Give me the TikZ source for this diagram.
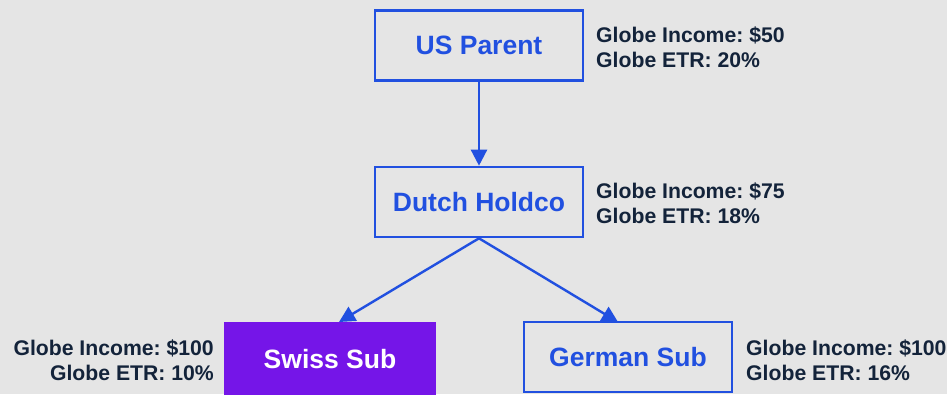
\documentclass[tikz,border=0pt]{standalone}
\usepackage{fontspec}
\setmainfont{Liberation Sans}
\usetikzlibrary{arrows.meta}
\definecolor{bg}{HTML}{E5E5E5}
\definecolor{bblue}{HTML}{2150E0}
\definecolor{navy}{HTML}{13233A}
\definecolor{purp}{HTML}{7515E8}
\frenchspacing
\begin{document}
\begin{tikzpicture}[x=1pt,y=-1pt,
  box/.style={draw=bblue, line width=2.6pt, minimum width=208pt, minimum height=70pt, inner sep=0pt,
    font=\fontsize{26.5}{30}\selectfont\bfseries, text=bblue},
  swissbox/.style={fill=purp, draw=none, minimum width=212pt, minimum height=74pt, inner sep=0pt,
    font=\fontsize{26.5}{30}\selectfont\bfseries, text=white},
  lab/.style={font=\fontsize{21.2}{25.5}\selectfont\bfseries, text=navy, inner sep=0pt},
  conn/.style={draw=bblue, line width=2.4pt, -{Triangle[length=16pt,width=16pt]}}]
\fill[bg] (0,0) rectangle (947,394);
\useasboundingbox (0,0) rectangle (947,394);
\node[box] (us) at (479,45.5) {US Parent};
\node[box] (dutch) at (479,202) {Dutch Holdco};
\node[swissbox] (swiss) at (330,359) {Swiss Sub};
\node[box] (german) at (628,357) {German Sub};
\node[lab, anchor=west, align=left] (l1) at (596,47) {Globe Income: \$50\\Globe ETR: 20\%};
\node[lab, anchor=west, align=left] (l2) at (596,203) {Globe Income: \$75\\Globe ETR: 18\%};
\node[lab, anchor=east, align=right] (l3) at (214,360) {Globe Income: \$100\\Globe ETR: 10\%};
\node[lab, anchor=west, align=left] (l4) at (746,360) {Globe Income: \$100\\Globe ETR: 16\%};
\coordinate (st) at (339,322);
\coordinate (gt) at (618,322);
\draw[conn] (us.south) -- (dutch.north);
\draw[conn] (dutch.south) -- (st);
\draw[conn] (dutch.south) -- (gt);
\end{tikzpicture}
\end{document}
